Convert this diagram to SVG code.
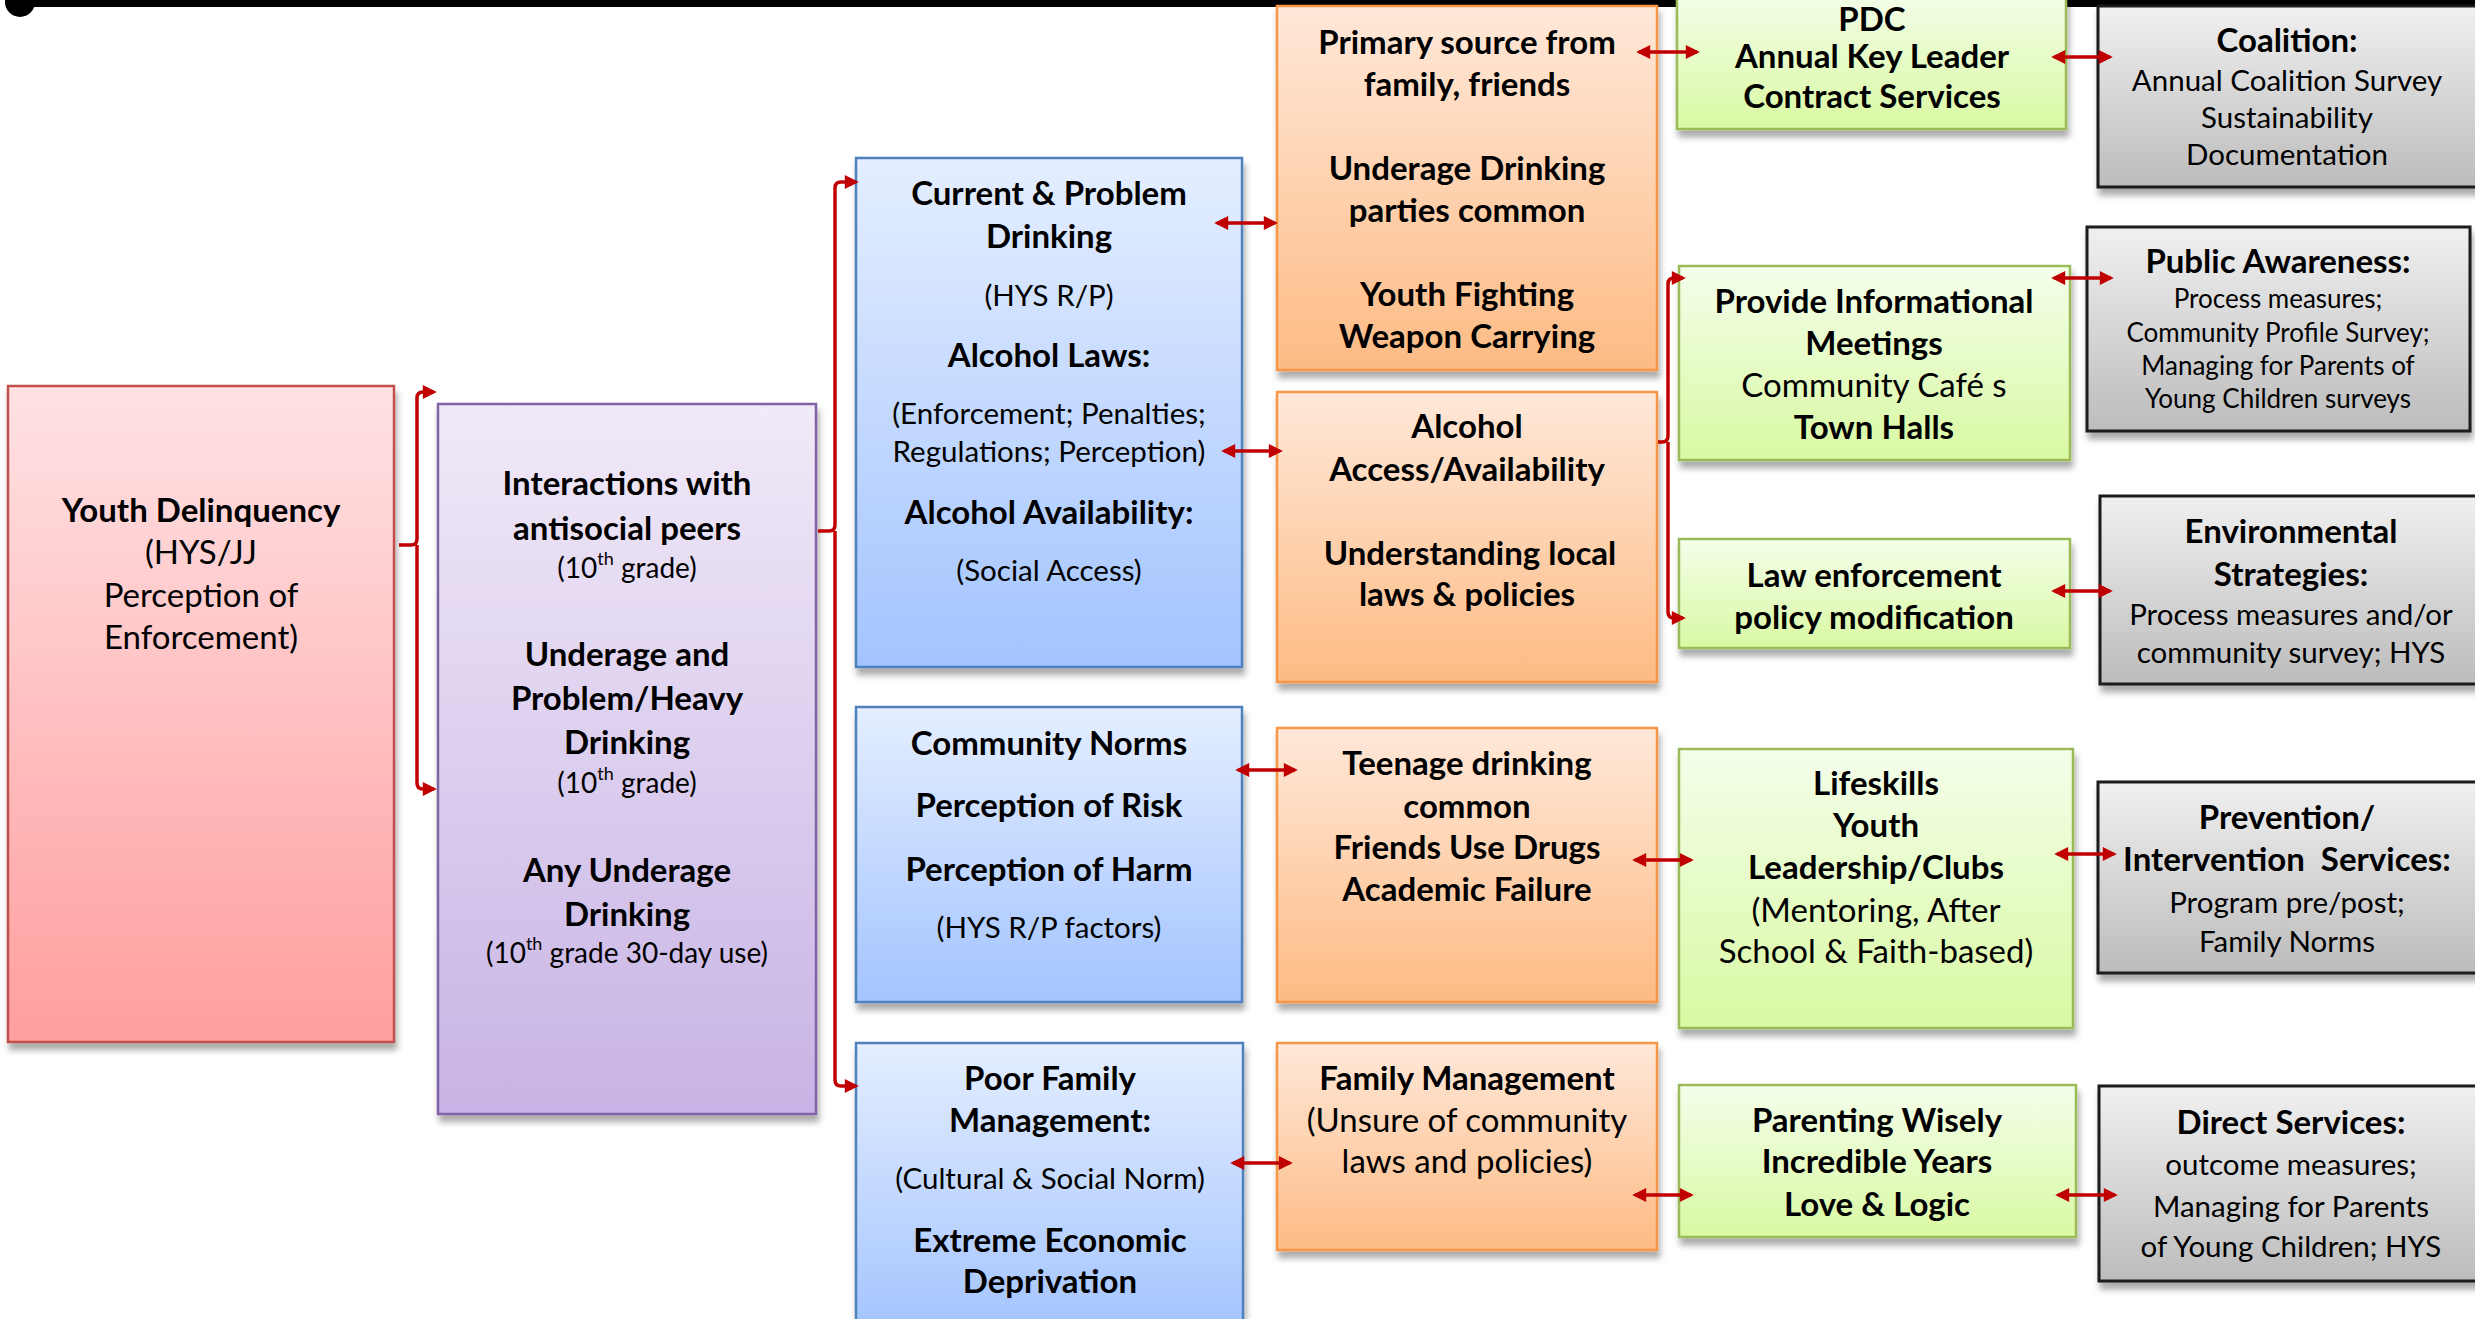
<svg xmlns="http://www.w3.org/2000/svg" width="2475" height="1319" viewBox="0 0 2475 1319">
<style>
text{font-family:Lato,"Open Sans","Liberation Sans",sans-serif;fill:#000;text-anchor:middle;dominant-baseline:central;transform:translate(0px,-2px)}
.b{font-weight:700;font-size:33px}
.r{font-size:33px}
.m{font-size:29.5px}
.s{font-size:28px}
.x{font-size:26px}
.box{filter:url(#sh)}
.red{fill:url(#gRed);stroke:#C0504D;stroke-width:2.5}
.pur{fill:url(#gPur);stroke:#8064A2;stroke-width:2.5}
.blu{fill:url(#gBlu);stroke:#4F81BD;stroke-width:2.5}
.ora{fill:url(#gOra);stroke:#F79646;stroke-width:2.5}
.gre{fill:url(#gGre);stroke:#9BBB59;stroke-width:2.5}
.gra{fill:url(#gGra);stroke:#1A1A1A;stroke-width:3}
.c{fill:none;stroke:#C00000;stroke-width:3.5}
</style>
<defs>
<linearGradient id="gRed" x1="0" y1="0" x2="0" y2="1"><stop offset="0" stop-color="#FFE2E4"/><stop offset="1" stop-color="#FF9E9E"/></linearGradient>
<linearGradient id="gPur" x1="0" y1="0" x2="0" y2="1"><stop offset="0" stop-color="#F1EAF8"/><stop offset="1" stop-color="#C7B3E5"/></linearGradient>
<linearGradient id="gBlu" x1="0" y1="0" x2="0" y2="1"><stop offset="0" stop-color="#E4EEFF"/><stop offset="1" stop-color="#A3C4FF"/></linearGradient>
<linearGradient id="gOra" x1="0" y1="0" x2="0" y2="1"><stop offset="0" stop-color="#FFE8D9"/><stop offset="1" stop-color="#FDBB84"/></linearGradient>
<linearGradient id="gGre" x1="0" y1="0" x2="0" y2="1"><stop offset="0" stop-color="#F4FEEA"/><stop offset="1" stop-color="#D9F9A3"/></linearGradient>
<linearGradient id="gGra" x1="0" y1="0" x2="0" y2="1"><stop offset="0" stop-color="#F0F0F0"/><stop offset="1" stop-color="#BCBCBC"/></linearGradient>
<filter id="sh" x="-10%" y="-10%" width="120%" height="125%"><feDropShadow dx="2" dy="7" stdDeviation="3" flood-color="#000" flood-opacity="0.33"/></filter>
<marker id="ah" viewBox="0 0 10 10" refX="8" refY="5" markerWidth="17" markerHeight="14" markerUnits="userSpaceOnUse" orient="auto-start-reverse"><path d="M0,0 L10,5 L0,10 z" fill="#C00000"/></marker>
</defs>
<rect width="2475" height="1319" fill="#fff"/>
<g id="topline">
<rect x="20" y="0" width="2455" height="7" fill="#000"/>
<circle cx="20" cy="2" r="15" fill="#000"/>
</g>

<g id="n-youth-delinquency">
<rect class="box red" x="8" y="386" width="386" height="656"/>
<text class="b" x="201" y="511">Youth Delinquency</text>
<text class="r" x="201" y="553">(HYS/JJ</text>
<text class="r" x="201" y="596">Perception of</text>
<text class="r" x="201" y="638">Enforcement)</text>
</g>

<g id="n-antisocial">
<rect class="box pur" x="438" y="404" width="378" height="710"/>
<text class="b" x="627" y="484">Interactions with</text>
<text class="b" x="627" y="529">antisocial peers</text>
<text class="s" x="627" y="569">(10<tspan font-size="18" dy="-9">th</tspan><tspan dy="9"> grade)</tspan></text>
<text class="b" x="627" y="655">Underage and</text>
<text class="b" x="627" y="699">Problem/Heavy</text>
<text class="b" x="627" y="743">Drinking</text>
<text class="s" x="627" y="784">(10<tspan font-size="18" dy="-9">th</tspan><tspan dy="9"> grade)</tspan></text>
<text class="b" x="627" y="871">Any Underage</text>
<text class="b" x="627" y="915">Drinking</text>
<text class="s" x="627" y="954">(10<tspan font-size="18" dy="-9">th</tspan><tspan dy="9"> grade 30-day use)</tspan></text>
</g>

<g id="n-current-drinking">
<rect class="box blu" x="856" y="158" width="386" height="509"/>
<text class="b" x="1049" y="194">Current &amp; Problem</text>
<text class="b" x="1049" y="237">Drinking</text>
<text class="m" x="1049" y="296">(HYS R/P)</text>
<text class="b" x="1049" y="356">Alcohol Laws:</text>
<text class="m" x="1049" y="414">(Enforcement; Penalties;</text>
<text class="m" x="1049" y="452">Regulations; Perception)</text>
<text class="b" x="1049" y="513">Alcohol Availability:</text>
<text class="m" x="1049" y="571">(Social Access)</text>
</g>

<g id="n-community-norms">
<rect class="box blu" x="856" y="707" width="386" height="295"/>
<text class="b" x="1049" y="744">Community Norms</text>
<text class="b" x="1049" y="806">Perception of Risk</text>
<text class="b" x="1049" y="870">Perception of Harm</text>
<text class="m" x="1049" y="928">(HYS R/P factors)</text>
</g>

<g id="n-family-mgmt">
<rect class="box blu" x="856" y="1043" width="387" height="290"/>
<text class="b" x="1050" y="1079">Poor Family</text>
<text class="b" x="1050" y="1121">Management:</text>
<text class="m" x="1050" y="1179">(Cultural &amp; Social Norm)</text>
<text class="b" x="1050" y="1241">Extreme Economic</text>
<text class="b" x="1050" y="1282">Deprivation</text>
</g>

<g id="n-primary-source">
<rect class="box ora" x="1277" y="6" width="380" height="364"/>
<text class="b" x="1467" y="43">Primary source from</text>
<text class="b" x="1467" y="85">family, friends</text>
<text class="b" x="1467" y="169">Underage Drinking</text>
<text class="b" x="1467" y="211">parties common</text>
<text class="b" x="1467" y="295">Youth Fighting</text>
<text class="b" x="1467" y="337">Weapon Carrying</text>
</g>

<g id="n-alcohol-access">
<rect class="box ora" x="1277" y="392" width="380" height="290"/>
<text class="b" x="1467" y="427">Alcohol</text>
<text class="b" x="1467" y="470">Access/Availability</text>
<text class="b" x="1470" y="554">Understanding local</text>
<text class="b" x="1467" y="595">laws &amp; policies</text>
</g>

<g id="n-teenage-drinking">
<rect class="box ora" x="1277" y="728" width="380" height="274"/>
<text class="b" x="1467" y="764">Teenage drinking</text>
<text class="b" x="1467" y="807">common</text>
<text class="b" x="1467" y="848">Friends Use Drugs</text>
<text class="b" x="1467" y="890">Academic Failure</text>
</g>

<g id="n-family-management">
<rect class="box ora" x="1277" y="1043" width="380" height="207"/>
<text class="b" x="1467" y="1079">Family Management</text>
<text class="r" x="1467" y="1121">(Unsure of community</text>
<text class="r" x="1467" y="1162">laws and policies)</text>
</g>

<g id="n-pdc">
<rect class="box gre" x="1677" y="-10" width="389" height="139"/>
<text class="b" x="1872" y="20" font-size="27">PDC</text>
<text class="b" x="1872" y="57">Annual Key Leader</text>
<text class="b" x="1872" y="97">Contract Services</text>
</g>

<g id="n-info-meetings">
<rect class="box gre" x="1679" y="266" width="391" height="194"/>
<text class="b" x="1874" y="302">Provide Informational</text>
<text class="b" x="1874" y="344">Meetings</text>
<text class="r" x="1874" y="386">Community Café s</text>
<text class="b" x="1874" y="428">Town Halls</text>
</g>

<g id="n-law-enforcement">
<rect class="box gre" x="1679" y="539" width="391" height="109"/>
<text class="b" x="1874" y="576">Law enforcement</text>
<text class="b" x="1874" y="618">policy modification</text>
</g>

<g id="n-lifeskills">
<rect class="box gre" x="1679" y="749" width="394" height="279"/>
<text class="b" x="1876" y="784">Lifeskills</text>
<text class="b" x="1876" y="826">Youth</text>
<text class="b" x="1876" y="868">Leadership/Clubs</text>
<text class="r" x="1876" y="911">(Mentoring, After</text>
<text class="r" x="1876" y="952">School &amp; Faith-based)</text>
</g>

<g id="n-parenting">
<rect class="box gre" x="1679" y="1085" width="397" height="152"/>
<text class="b" x="1877" y="1121">Parenting Wisely</text>
<text class="b" x="1877" y="1162">Incredible Years</text>
<text class="b" x="1877" y="1205">Love &amp; Logic</text>
</g>

<g id="n-coalition">
<rect class="box gra" x="2098" y="6" width="390" height="181"/>
<text class="b" x="2287" y="41">Coalition:</text>
<text class="m" x="2287" y="81">Annual Coalition Survey</text>
<text class="m" x="2287" y="118">Sustainability</text>
<text class="m" x="2287" y="155">Documentation</text>
</g>

<g id="n-public-awareness">
<rect class="box gra" x="2087" y="227" width="383" height="204"/>
<text class="b" x="2278" y="262">Public Awareness:</text>
<text class="x" x="2278" y="300">Process measures;</text>
<text class="x" x="2278" y="334">Community Profile Survey;</text>
<text class="x" x="2278" y="367">Managing for Parents of</text>
<text class="x" x="2278" y="400">Young Children surveys</text>
</g>

<g id="n-environmental">
<rect class="box gra" x="2100" y="496" width="390" height="188"/>
<text class="b" x="2291" y="532">Environmental</text>
<text class="b" x="2291" y="575">Strategies:</text>
<text class="m" x="2291" y="615">Process measures and/or</text>
<text class="m" x="2291" y="653">community survey; HYS</text>
</g>

<g id="n-prevention">
<rect class="box gra" x="2098" y="782" width="390" height="191"/>
<text class="b" x="2287" y="818">Prevention/</text>
<text class="b" x="2287" y="860">Intervention&#160; Services:</text>
<text class="m" x="2287" y="903">Program pre/post;</text>
<text class="m" x="2287" y="942">Family Norms</text>
</g>

<g id="n-direct-services">
<rect class="box gra" x="2099" y="1086" width="390" height="195"/>
<text class="b" x="2291" y="1123">Direct Services:</text>
<text class="m" x="2291" y="1165">outcome measures;</text>
<text class="m" x="2291" y="1207">Managing for Parents</text>
<text class="m" x="2291" y="1247">of Young Children; HYS</text>
</g>

<g id="connectors">
<path class="c" d="M399,545 H411 Q417,545 417,539 V398 Q417,392 423,392 H434" marker-end="url(#ah)"/>
<path class="c" d="M417,545 V783 Q417,789 423,789 H434" marker-end="url(#ah)"/>
<path class="c" d="M818,531 H829 Q835,531 835,525 V188 Q835,182 841,182 H856" marker-end="url(#ah)"/>
<path class="c" d="M835,531 V1080 Q835,1086 841,1086 H856" marker-end="url(#ah)"/>
<path class="c" d="M1658,442 H1662 Q1668,442 1668,436 V284 Q1668,278 1674,278 H1683" marker-end="url(#ah)"/>
<path class="c" d="M1668,442 V612 Q1668,618 1674,618 H1683" marker-end="url(#ah)"/>
<line class="c" x1="1217" y1="223" x2="1275" y2="223" marker-start="url(#ah)" marker-end="url(#ah)"/>
<line class="c" x1="1224" y1="451" x2="1280" y2="451" marker-start="url(#ah)" marker-end="url(#ah)"/>
<line class="c" x1="1238" y1="770" x2="1295" y2="770" marker-start="url(#ah)" marker-end="url(#ah)"/>
<line class="c" x1="1233" y1="1163" x2="1290" y2="1163" marker-start="url(#ah)" marker-end="url(#ah)"/>
<line class="c" x1="1639" y1="52" x2="1697" y2="52" marker-start="url(#ah)" marker-end="url(#ah)"/>
<line class="c" x1="2054" y1="57" x2="2110" y2="57" marker-start="url(#ah)" marker-end="url(#ah)"/>
<line class="c" x1="2054" y1="278" x2="2111" y2="278" marker-start="url(#ah)" marker-end="url(#ah)"/>
<line class="c" x1="2054" y1="591" x2="2110" y2="591" marker-start="url(#ah)" marker-end="url(#ah)"/>
<line class="c" x1="1635" y1="860" x2="1691" y2="860" marker-start="url(#ah)" marker-end="url(#ah)"/>
<line class="c" x1="2057" y1="854" x2="2114" y2="854" marker-start="url(#ah)" marker-end="url(#ah)"/>
<line class="c" x1="1635" y1="1195" x2="1691" y2="1195" marker-start="url(#ah)" marker-end="url(#ah)"/>
<line class="c" x1="2058" y1="1195" x2="2115" y2="1195" marker-start="url(#ah)" marker-end="url(#ah)"/>
</g>
</svg>
